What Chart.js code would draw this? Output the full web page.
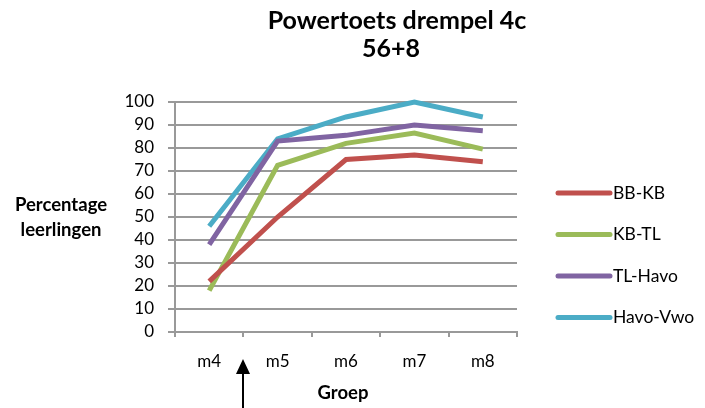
<!DOCTYPE html>
<html>
<head>
<meta charset="utf-8">
<script src="https://cdn.jsdelivr.net/npm/chart.js@4"></script>
<style>
  html, body { margin: 0; padding: 0; background: #fff; }
</style>
</head>
<body>
<canvas id="chart" width="705" height="408"></canvas>
<script>
// groups and percentages per threshold
const groepen = ['m4', 'm5', 'm6', 'm7', 'm8'];
const bbKb = [22, 50, 75, 77, 74];
const kbTl = [18, 72.5, 82, 86.5, 79.5];
const tlHavo = [38, 83, 85.5, 90, 87.5];
const havoVwo = [46, 84, 93.5, 100, 93.5];

const FONT = 'Lato, "Open Sans", sans-serif';

// title, axis titles, legend and the arrow under the x axis
const extras = {
  id: 'extras',
  afterDraw(chart) {
    const ctx = chart.ctx;
    ctx.save();
    ctx.fillStyle = '#000';
    ctx.textAlign = 'center';
    ctx.textBaseline = 'middle';

    ctx.font = 'bold 25px ' + FONT;
    ctx.fillText('Powertoets drempel 4c', 397, 21);
    ctx.fillText('56+8', 391, 49);

    ctx.font = 'bold 18.5px ' + FONT;
    ctx.fillText('Percentage', 61, 205);
    ctx.fillText('leerlingen', 61, 230);
    ctx.fillText('Groep', 343, 393);

    // legend
    ctx.font = '17.5px ' + FONT;
    ctx.textAlign = 'left';
    chart.data.datasets.forEach((ds, i) => {
      const y = 193 + i * 41.5;
      ctx.strokeStyle = ds.borderColor;
      ctx.lineWidth = 5;
      ctx.lineCap = 'round';
      ctx.beginPath();
      ctx.moveTo(558, y);
      ctx.lineTo(610, y);
      ctx.stroke();
      ctx.fillText(ds.label, 613, y);
    });

    // arrow pointing at the tick between m4 and m5
    const ax = Math.round(chart.scales.x.getPixelForValue(0.5));
    ctx.strokeStyle = '#000';
    ctx.lineWidth = 2;
    ctx.lineCap = 'butt';
    ctx.beginPath();
    ctx.moveTo(ax, 372);
    ctx.lineTo(ax, 408);
    ctx.stroke();
    ctx.beginPath();
    ctx.moveTo(ax, 359);
    ctx.lineTo(ax - 7, 374);
    ctx.lineTo(ax + 7, 374);
    ctx.closePath();
    ctx.fill();
    ctx.restore();
  }
};

function lijn(label, data, color) {
  return {
    label: label,
    data: data,
    borderColor: color,
    backgroundColor: color,
    borderWidth: 5,
    pointRadius: 0,
    tension: 0,
    clip: false
  };
}

new Chart(document.getElementById('chart'), {
  type: 'line',
  data: {
    labels: groepen,
    datasets: [
      lijn('BB-KB', bbKb, '#C0504D'),
      lijn('KB-TL', kbTl, '#9BBB59'),
      lijn('TL-Havo', tlHavo, '#8064A2'),
      lijn('Havo-Vwo', havoVwo, '#4BACC6')
    ]
  },
  options: {
    responsive: false,
    animation: false,
    layout: { padding: { left: 0, top: 102, right: 188, bottom: 0 } },
    plugins: {
      legend: { display: false },
      title: { display: false },
      tooltip: { enabled: false }
    },
    scales: {
      x: {
        offset: true,
        afterFit: (s) => { s.height = 76; },
        grid: { drawOnChartArea: false, offset: true, color: '#999', lineWidth: 2, tickLength: 5 },
        border: { color: '#999', width: 2 },
        ticks: { color: '#000', font: { family: FONT, size: 17 }, padding: 14 }
      },
      y: {
        min: 0,
        max: 100,
        afterFit: (s) => { s.width = 175; },
        grid: { color: '#999', lineWidth: 2, tickLength: 7 },
        border: { color: '#999', width: 2 },
        ticks: { stepSize: 10, autoSkip: false, color: '#000', font: { family: FONT, size: 17 }, padding: 14 }
      }
    }
  },
  plugins: [extras]
});
</script>
</body>
</html>
